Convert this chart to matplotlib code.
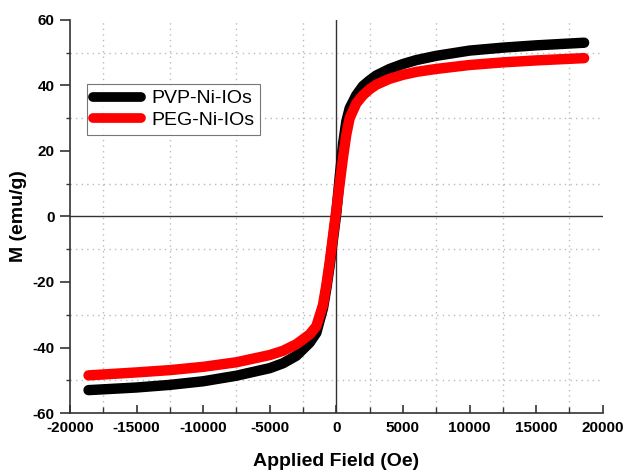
import numpy as np
import matplotlib
matplotlib.use('Agg')
import matplotlib.pyplot as plt
from matplotlib.ticker import MultipleLocator

plt.rcParams['font.family'] = ['Liberation Sans', 'DejaVu Sans']
plt.rcParams['axes.unicode_minus'] = False

# applied field (Oe) and magnetisation (emu/g)
field = [-18600, -15000, -12500, -10000, -7500, -5000, -4000, -3000, -2000, -1500,
         -1000, -750, -500, -250, 0, 250, 500, 750, 1000, 1500, 2000, 2500, 3000,
         4000, 5000, 6000, 7500, 10000, 12500, 15000, 18600]
m_pvp = [-53, -52.2, -51.4, -50.3, -48.6, -46.3, -44.8, -42.5, -38.5, -35.5,
         -28, -22, -15, -7, 1, 12, 22, 29, 33, 37, 39.8, 41.5, 43,
         45, 46.5, 47.7, 49, 50.6, 51.5, 52.2, 53]
m_peg = [-48.5, -47.6, -46.9, -45.9, -44.5, -42.3, -41, -39, -36, -33.5,
         -27, -21, -14, -6, 2, 10, 18, 25, 30, 34.5, 37, 38.8, 40.2,
         42, 43.2, 44.1, 45, 46.2, 47, 47.6, 48.3]
labels = ['PVP-Ni-IOs', 'PEG-Ni-IOs']

fig = plt.figure(figsize=(6.24, 4.71), dpi=100)
ax = fig.add_axes([0.112, 0.123, 0.854, 0.835])

ax.axhline(0, color='#333333', lw=1, zorder=1)
ax.axvline(0, color='#333333', lw=1, zorder=1)

ax.plot(field, m_pvp, color='black', lw=7.5, solid_capstyle='round',
        solid_joinstyle='round', label=labels[0], zorder=3)
ax.plot(field, m_peg, color='red', lw=7.5, solid_capstyle='round',
        solid_joinstyle='round', label=labels[1], zorder=4)

ax.set_xlim(-20000, 20000)
ax.set_ylim(-60, 60)
ax.xaxis.set_major_locator(MultipleLocator(5000))
ax.xaxis.set_minor_locator(MultipleLocator(2500))
ax.yaxis.set_major_locator(MultipleLocator(20))
ax.yaxis.set_minor_locator(MultipleLocator(10))

# dotted grid only on the minor positions
ax.grid(which='minor', ls=(0, (1, 3)), color='#bbbbbb', lw=1)
ax.grid(which='major', visible=False)

for s in ['top', 'right']:
    ax.spines[s].set_visible(False)
for s in ['left', 'bottom']:
    ax.spines[s].set_color('#333333')
    ax.spines[s].set_linewidth(1.2)

ax.tick_params(axis='x', which='both', direction='in', colors='#333333')
ax.tick_params(axis='x', which='major', length=6, width=1.2)
ax.tick_params(axis='x', which='minor', length=4, width=1)
ax.tick_params(axis='y', which='both', direction='out', colors='#333333')
ax.tick_params(axis='y', which='major', length=7, width=1.2)
ax.tick_params(axis='y', which='minor', length=3, width=1)
ax.tick_params(labelcolor='black', labelsize=11, pad=4)
ax.tick_params(axis='x', pad=6)
for t in ax.get_xticklabels() + ax.get_yticklabels():
    t.set_fontweight('bold')

ax.set_xlabel('Applied Field (Oe)', fontsize=14, fontweight='bold', labelpad=13)
ax.set_ylabel('M (emu/g)', fontsize=14, fontweight='bold', labelpad=4)

leg = ax.legend(loc='upper left', bbox_to_anchor=(0.032, 0.837), fontsize=14,
                frameon=True, fancybox=False, edgecolor='#555555',
                handlelength=2.5, borderpad=0.3, labelspacing=0.22,
                handletextpad=0.5, borderaxespad=0)
leg.get_frame().set_linewidth(0.8)
for h in leg.get_lines():
    h.set_linewidth(7)

fig.savefig('out.png', dpi=100)
